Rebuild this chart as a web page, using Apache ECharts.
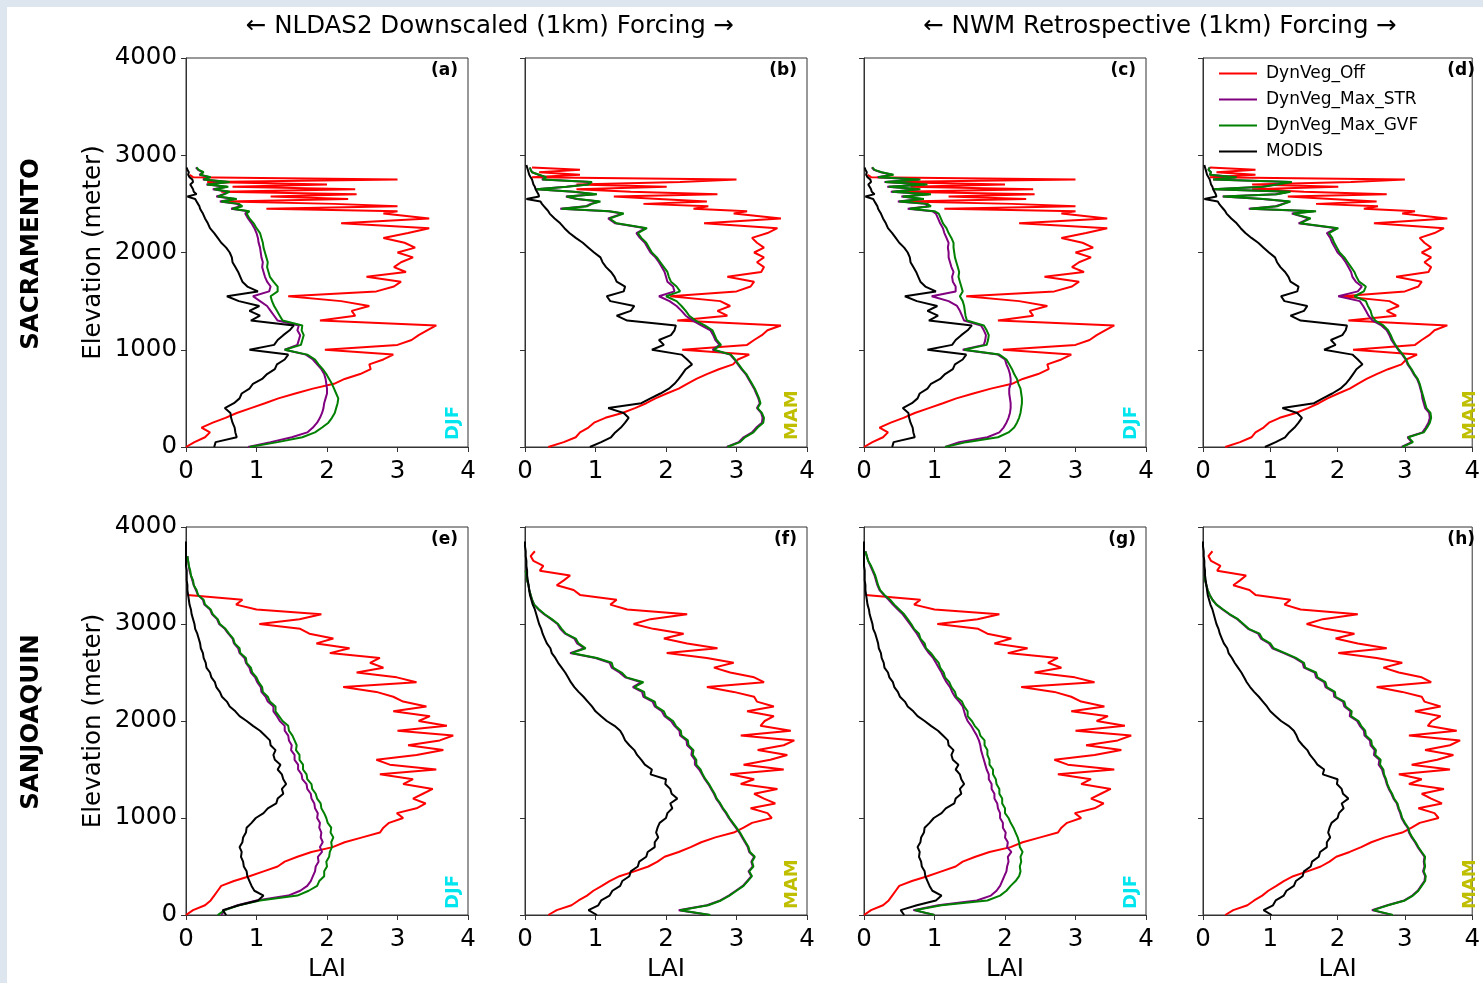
<!DOCTYPE html>
<html>
<head>
<meta charset="utf-8">
<title>LAI vs elevation</title>
<script src="https://cdn.jsdelivr.net/npm/echarts@6/dist/echarts.min.js"></script>
<style>
  html, body { margin: 0; padding: 0; background: #fff; }
  #chart { width: 1483px; height: 983px; }
</style>
</head>
<body>
<div id="chart"></div>
<script>
// elevation bins (m); finer near the ridge tops of the Sacramento basin
const elevSac = [0, 50, 100, 150, 200, 250, 300, 350, 400, 450, 500, 550, 600, 650, 700, 750, 800, 850, 900, 950,
  1000, 1050, 1100, 1150, 1200, 1250, 1300, 1350, 1400, 1450, 1500, 1550, 1600, 1650, 1700, 1750, 1800, 1850, 1900, 1950,
  2000, 2050, 2100, 2150, 2200, 2250, 2300, 2350,
  2400, 2425, 2450, 2475, 2500, 2525, 2550, 2575, 2600, 2625, 2650, 2675, 2700, 2725, 2750, 2775, 2800, 2825, 2850, 2875, 2900]
const elevSj = [0, 50, 100, 150, 200, 250, 300, 350, 400, 450, 500, 550, 600, 650, 700, 750, 800, 850, 900, 950,
  1000, 1050, 1100, 1150, 1200, 1250, 1300, 1350, 1400, 1450, 1500, 1550, 1600, 1650, 1700, 1750, 1800, 1850, 1900, 1950,
  2000, 2050, 2100, 2150, 2200, 2250, 2300, 2350, 2400, 2450, 2500, 2550, 2600, 2650, 2700, 2750, 2800, 2850, 2900, 2950,
  3000, 3050, 3100, 3150, 3200, 3250, 3300, 3350, 3400, 3450, 3500, 3550, 3600, 3650, 3700, 3750, 3800, 3850, 3900]

// ---- SACRAMENTO, DJF ----
const sacDjfOff = [0.0, 0.12, 0.27, 0.34, 0.22, 0.38, 0.56, 0.72, 0.92, 1.12,
  1.31, 1.55, 1.8, 2.1, 2.25, 2.47, 2.62, 2.6, 2.8, 2.94,
  1.97, 3.0, 3.2, 3.3, 3.42, 3.55, 1.9, 2.4, 2.35, 2.6,
  2.2, 1.45, 2.7, 2.95, 3.05, 2.56, 3.12, 2.95, 3.05, 3.22,
  3.0, 3.25, 3.1, 2.8, 3.15, 3.45, 2.2, 3.45,
  2.8, 3.0, 1.14, 3.0, 2.1, 0.6, 2.3, 1.2, 2.42, 0.5, 2.4, 0.66, 2.0, 0.3, 3.0, 0.1, 0.05, null, null, null, null]
const sacDjfModis = [0.4, 0.42, 0.72, 0.7, 0.69, 0.66, 0.64, 0.63, 0.55, 0.68,
  0.76, 0.79, 0.9, 0.95, 1.08, 1.15, 1.26, 1.29, 1.4, 1.45,
  0.9, 1.25, 1.3, 1.38, 1.47, 1.53, 0.92, 1.05, 0.9, 1.04,
  0.75, 0.58, 1.02, 0.87, 0.8, 0.77, 0.74, 0.7, 0.66, 0.65,
  0.62, 0.57, 0.5, 0.45, 0.4, 0.34, 0.31, 0.27,
  0.24, 0.22, 0.2, 0.19, 0.17, 0.15, 0.13, 0.02, 0.15, 0.11, 0.1, 0.08, 0.06, 0.1, 0.09, 0.05, 0.03, 0.04, 0.02, 0.01, null]
const sacDjfGvfN = [0.9, 1.3, 1.65, 1.83, 1.93, 2.02, 2.07, 2.11, 2.13, 2.15,
  2.16, 2.13, 2.1, 2.07, 2.03, 1.99, 1.94, 1.88, 1.83, 1.72,
  1.4, 1.63, 1.65, 1.67, 1.64, 1.65, 1.37, 1.33, 1.29, 1.25,
  1.22, 1.2, 1.3, 1.3, 1.24, 1.19, 1.17, 1.15, 1.16, 1.14,
  1.12, 1.1, 1.09, 1.07, 1.05, 1.0, 0.96, 0.9,
  0.86, 0.9, 0.66, 0.8, 0.75, 0.5, 0.72, 0.45, 0.55, 0.62, 0.4, 0.6, 0.3, 0.62, 0.25, 0.35, 0.2, 0.25, 0.18, 0.15, null]
const sacDjfStrN = [0.88, 1.2, 1.5, 1.72, 1.8, 1.86, 1.9, 1.93, 1.95, 1.96,
  1.98, 2.0, 2.0, 1.99, 1.98, 1.96, 1.92, 1.86, 1.8, 1.7,
  1.4, 1.58, 1.6, 1.62, 1.58, 1.6, 1.3, 1.25, 1.2, 1.15,
  1.05, 0.95, 1.18, 1.2, 1.15, 1.12, 1.1, 1.08, 1.09, 1.07,
  1.06, 1.05, 1.03, 1.02, 1.0, 0.97, 0.93, 0.88,
  0.84, 0.88, 0.64, 0.78, 0.72, 0.48, 0.7, 0.43, 0.53, 0.6, 0.38, 0.58, 0.29, 0.6, 0.24, 0.34, 0.19, 0.24, 0.17, 0.14, null]
const sacDjfGvfW = [1.15, 1.45, 1.9, 2.05, 2.13, 2.17, 2.2, 2.22, 2.23, 2.24,
  2.24, 2.23, 2.22, 2.19, 2.17, 2.13, 2.1, 2.06, 2.02, 1.92,
  1.42, 1.74, 1.76, 1.77, 1.74, 1.7, 1.46, 1.44, 1.43, 1.42,
  1.4, 1.36, 1.4, 1.38, 1.36, 1.34, 1.35, 1.33, 1.31, 1.29,
  1.28, 1.27, 1.27, 1.24, 1.2, 1.17, 1.12, 1.09,
  1.06, 1.0, 0.65, 0.95, 0.9, 0.5, 0.85, 0.55, 0.95, 0.4, 0.8, 0.35, 0.9, 0.3, 0.8, 0.2, 0.42, 0.25, 0.15, 0.12, null]
const sacDjfStrW = [1.15, 1.35, 1.75, 1.92, 1.98, 2.02, 2.05, 2.07, 2.08, 2.08,
  2.07, 2.06, 2.06, 2.08, 2.08, 2.07, 2.05, 2.02, 2.0, 1.9,
  1.4, 1.7, 1.72, 1.73, 1.7, 1.66, 1.42, 1.39, 1.36, 1.32,
  1.2, 0.96, 1.3, 1.3, 1.26, 1.25, 1.27, 1.24, 1.22, 1.2,
  1.2, 1.19, 1.2, 1.17, 1.14, 1.12, 1.08, 1.05,
  1.02, 0.97, 0.62, 0.92, 0.87, 0.48, 0.82, 0.53, 0.92, 0.38, 0.78, 0.33, 0.87, 0.29, 0.78, 0.19, 0.4, 0.24, 0.14, 0.11, null]

// ---- SACRAMENTO, MAM ----
const sacMamOff = [0.33, 0.55, 0.72, 0.78, 0.9, 0.98, 1.14, 1.38, 1.56, 1.72,
  1.85, 2.01, 2.18, 2.3, 2.43, 2.58, 2.75, 2.95, 3.02, 3.18,
  2.23, 3.15, 3.25, 3.36, 3.44, 3.63, 2.16, 2.87, 2.73, 2.91,
  2.77, 2.06, 3.0, 3.2, 3.25, 2.87, 3.35, 3.39, 3.29, 3.39,
  3.25, 3.39, 3.29, 3.22, 3.44, 3.58, 2.54, 3.63,
  2.96, 3.15, 2.39, 2.6, 1.68, 2.58, 1.9, 1.26, 2.73, 1.5, 0.73, 2.01, 0.73, 2.2, 3.0, 0.1, 0.78, 0.2, 0.78, 0.1, null]
const sacMamModis = [0.92, 1.08, 1.22, 1.28, 1.36, 1.42, 1.47, 1.4, 1.18, 1.65,
  1.78, 1.92, 2.04, 2.12, 2.18, 2.23, 2.28, 2.37, 2.3, 2.22,
  1.8, 1.97, 1.9, 2.07, 2.12, 2.14, 1.45, 1.3, 1.5, 1.55,
  1.21, 1.16, 1.4, 1.42, 1.3, 1.27, 1.22, 1.15, 1.1, 1.07,
  0.98, 0.9, 0.82, 0.72, 0.63, 0.56, 0.5, 0.42,
  0.35, 0.33, 0.3, 0.27, 0.24, 0.22, 0.02, 0.2, 0.19, 0.17, 0.15, 0.14, 0.12, 0.11, 0.1, 0.08, 0.06, 0.05, 0.04, 0.03, 0.02]
const sacMamGvfN = [2.87, 3.05, 3.12, 3.24, 3.3, 3.38, 3.39, 3.36, 3.3, 3.34,
  3.32, 3.29, 3.26, 3.22, 3.18, 3.14, 3.08, 3.03, 2.98, 2.92,
  2.68, 2.78, 2.72, 2.69, 2.66, 2.55, 2.42, 2.33, 2.28, 2.22,
  2.15, 2.0, 2.2, 2.15, 2.07, 2.04, 2.02, 1.97, 1.92, 1.87,
  1.8, 1.76, 1.72, 1.65, 1.6, 1.73, 1.3, 1.2,
  1.4, 1.2, 0.52, 0.88, 0.95, 1.07, 0.75, 0.59, 1.02, 0.7, 0.16, 0.6, 0.9, 0.95, 0.25, 0.3, 0.2, 0.1, 0.08, 0.07, null]
const sacMamStrN = [2.86, 3.03, 3.1, 3.22, 3.28, 3.36, 3.37, 3.35, 3.29, 3.33,
  3.31, 3.28, 3.25, 3.21, 3.17, 3.13, 3.07, 3.02, 2.97, 2.91,
  2.66, 2.76, 2.7, 2.67, 2.63, 2.5, 2.38, 2.28, 2.22, 2.15,
  2.05, 1.9, 2.12, 2.1, 2.02, 2.0, 1.98, 1.94, 1.9, 1.85,
  1.78, 1.74, 1.7, 1.63, 1.58, 1.71, 1.28, 1.18,
  1.38, 1.18, 0.5, 0.86, 0.93, 1.05, 0.73, 0.58, 1.0, 0.68, 0.16, 0.58, 0.88, 0.93, 0.24, 0.29, 0.19, 0.1, 0.08, 0.07, null]
const sacMamGvfW = [2.96, 3.12, 3.05, 3.28, 3.33, 3.37, 3.39, 3.38, 3.32, 3.3,
  3.28, 3.26, 3.24, 3.22, 3.19, 3.14, 3.1, 3.05, 3.02, 2.97,
  2.91, 2.86, 2.82, 2.79, 2.75, 2.68, 2.56, 2.51, 2.49, 2.45,
  2.42, 2.25, 2.39, 2.42, 2.32, 2.28, 2.25, 2.2, 2.15, 2.1,
  2.03, 1.99, 1.95, 1.92, 1.87, 2.01, 1.44, 1.6,
  1.34, 1.68, 0.7, 1.1, 1.2, 1.3, 0.9, 0.3, 1.1, 1.3, 0.15, 0.9, 1.1, 1.32, 0.15, 0.5, 0.1, 0.12, 0.08, 0.1, null]
const sacMamStrW = [2.95, 3.1, 3.04, 3.26, 3.31, 3.35, 3.37, 3.36, 3.3, 3.28,
  3.26, 3.25, 3.23, 3.21, 3.18, 3.13, 3.09, 3.04, 3.01, 2.96,
  2.9, 2.85, 2.8, 2.77, 2.73, 2.65, 2.52, 2.46, 2.42, 2.38,
  2.33, 2.01, 2.3, 2.36, 2.27, 2.22, 2.2, 2.16, 2.12, 2.07,
  2.0, 1.96, 1.92, 1.89, 1.84, 1.98, 1.42, 1.58,
  1.32, 1.65, 0.68, 1.08, 1.18, 1.28, 0.88, 0.29, 1.08, 1.28, 0.15, 0.88, 1.08, 1.3, 0.15, 0.49, 0.1, 0.12, 0.08, 0.1, null]

// ---- SANJOAQUIN, DJF ----
const sjDjfOff = [0.0, 0.1, 0.27, 0.35, 0.4, 0.45, 0.5, 0.68, 0.9, 1.1,
  1.3, 1.4, 1.58, 1.78, 2.08, 2.25, 2.5, 2.75, 2.8, 2.88,
  3.08, 2.99, 3.27, 3.4, 3.22, 3.36, 3.5, 3.08, 3.22, 2.75,
  3.55, 2.89, 2.7, 3.27, 3.65, 3.15, 3.6, 3.79, 3.0, 3.7,
  3.3, 3.46, 2.94, 3.41, 3.08, 2.94, 2.7, 2.23, 3.27, 2.99,
  2.42, 2.8, 2.61, 2.75, 2.04, 2.32, 1.85, 2.09, 1.75, 1.62,
  1.04, 1.61, 1.92, 1.0, 0.71, 0.8, 0.02, null, null, null,
  null, null, null, null, null, null, null, null, null]
const sjDjfModis = [0.57, 0.52, 0.75, 1.02, 1.1, 0.97, 0.93, 0.9, 0.87, 0.86,
  0.82, 0.81, 0.78, 0.79, 0.76, 0.8, 0.81, 0.85, 0.86, 0.93,
  0.99, 1.1, 1.16, 1.28, 1.3, 1.38, 1.36, 1.42, 1.38, 1.36,
  1.3, 1.34, 1.26, 1.24, 1.27, 1.2, 1.19, 1.12, 1.05, 0.95,
  0.86, 0.76, 0.7, 0.62, 0.58, 0.51, 0.48, 0.43, 0.41, 0.36,
  0.34, 0.29, 0.28, 0.25, 0.24, 0.21, 0.2, 0.18, 0.16, 0.13,
  0.12, 0.1, 0.08, 0.07, 0.05, 0.04, 0.03, 0.02, 0.02, 0.01,
  0.01, 0.01, 0.0, 0.0, 0.0, 0.0, 0.0, 0.0, null]
const sjDjfGvfN = [0.45, 0.55, 0.75, 1.05, 1.58, 1.74, 1.86, 1.89, 1.96, 1.96,
  2.0, 1.99, 2.03, 2.04, 2.07, 2.06, 2.09, 2.05, 2.06, 2.01,
  1.99, 1.96, 1.92, 1.91, 1.86, 1.84, 1.79, 1.78, 1.72, 1.71,
  1.66, 1.66, 1.61, 1.61, 1.56, 1.57, 1.54, 1.51, 1.46, 1.45,
  1.37, 1.32, 1.27, 1.27, 1.19, 1.16, 1.09, 1.08, 1.03, 1.0,
  0.94, 0.92, 0.86, 0.85, 0.77, 0.76, 0.69, 0.67, 0.61, 0.56,
  0.48, 0.45, 0.38, 0.35, 0.27, 0.25, 0.17, 0.15, 0.11, 0.1,
  0.07, 0.06, 0.04, 0.03, 0.02, null, null, null, null]
const sjDjfStrN = [0.5, 0.55, 0.73, 1.0, 1.45, 1.62, 1.72, 1.77, 1.8, 1.83,
  1.84, 1.88, 1.87, 1.93, 1.9, 1.94, 1.91, 1.92, 1.89, 1.9,
  1.86, 1.87, 1.83, 1.82, 1.78, 1.77, 1.72, 1.71, 1.65, 1.64,
  1.59, 1.59, 1.54, 1.54, 1.49, 1.5, 1.46, 1.45, 1.4, 1.4,
  1.33, 1.29, 1.24, 1.24, 1.16, 1.13, 1.07, 1.06, 1.01, 0.98,
  0.92, 0.9, 0.85, 0.83, 0.76, 0.74, 0.68, 0.66, 0.6, 0.55,
  0.47, 0.44, 0.37, 0.34, 0.26, 0.24, 0.17, 0.14, 0.11, 0.09,
  0.07, 0.05, 0.04, 0.03, 0.02, null, null, null, null]
const sjDjfGvfW = [1.0, 0.72, 1.1, 1.75, 1.93, 2.02, 2.08, 2.15, 2.2, 2.22,
  2.21, 2.23, 2.22, 2.25, 2.21, 2.2, 2.18, 2.15, 2.12, 2.08,
  2.05, 2.0, 2.0, 1.96, 1.96, 1.92, 1.92, 1.88, 1.87, 1.83,
  1.83, 1.78, 1.78, 1.75, 1.75, 1.71, 1.71, 1.65, 1.63, 1.57,
  1.53, 1.47, 1.47, 1.42, 1.39, 1.31, 1.29, 1.24, 1.21, 1.15,
  1.13, 1.08, 1.06, 1.0, 0.95, 0.88, 0.86, 0.8, 0.78, 0.71,
  0.67, 0.62, 0.57, 0.5, 0.43, 0.37, 0.29, 0.23, 0.2, 0.18,
  0.16, 0.13, 0.1, 0.06, 0.04, 0.02, null, null, null]
const sjDjfStrW = [1.0, 0.7, 1.05, 1.6, 1.8, 1.88, 1.93, 1.96, 1.99, 2.02,
  2.03, 2.05, 2.04, 2.09, 2.03, 2.04, 2.0, 2.01, 1.97, 1.97,
  1.93, 1.93, 1.9, 1.89, 1.85, 1.85, 1.81, 1.81, 1.77, 1.77,
  1.74, 1.72, 1.7, 1.68, 1.66, 1.65, 1.63, 1.6, 1.56, 1.52,
  1.47, 1.44, 1.42, 1.4, 1.35, 1.29, 1.25, 1.22, 1.17, 1.13,
  1.1, 1.06, 1.02, 0.98, 0.92, 0.87, 0.83, 0.79, 0.75, 0.7,
  0.65, 0.6, 0.55, 0.48, 0.41, 0.35, 0.28, 0.22, 0.19, 0.17,
  0.15, 0.12, 0.09, 0.06, 0.04, 0.02, null, null, null]

// ---- SANJOAQUIN, MAM ----
const sjMamOff = [0.33, 0.45, 0.66, 0.76, 0.88, 0.97, 1.09, 1.2, 1.34, 1.55,
  1.75, 1.88, 1.98, 2.18, 2.35, 2.5, 2.7, 2.96, 3.1, 3.22,
  3.5, 3.44, 3.2, 3.55, 3.39, 3.25, 3.58, 3.06, 3.25, 2.91,
  3.67, 3.1, 3.48, 3.72, 3.3, 3.67, 3.82, 3.06, 3.77, 3.34,
  3.4, 3.53, 3.15, 3.53, 3.29, 3.25, 2.96, 2.58, 3.39, 3.25,
  2.91, 2.68, 2.96, 2.58, 2.01, 2.73, 2.3, 1.97, 2.25, 1.82,
  1.54, 1.78, 2.3, 1.45, 1.21, 1.3, 0.78, 0.69, 0.45, 0.55,
  0.64, 0.21, 0.26, 0.12, 0.08, 0.14, null, null, null]
const sjMamModis = [1.02, 0.9, 1.04, 1.08, 1.2, 1.24, 1.35, 1.38, 1.48, 1.5,
  1.6, 1.62, 1.72, 1.74, 1.84, 1.84, 1.89, 1.86, 1.88, 1.91,
  2.0, 2.02, 2.09, 2.06, 2.16, 2.08, 2.06, 1.99, 2.0, 1.78,
  1.8, 1.7, 1.65, 1.59, 1.55, 1.48, 1.42, 1.39, 1.35, 1.27,
  1.16, 1.08, 1.0, 0.95, 0.89, 0.83, 0.76, 0.7, 0.65, 0.61,
  0.57, 0.52, 0.47, 0.43, 0.38, 0.36, 0.31, 0.28, 0.25, 0.23,
  0.2, 0.18, 0.16, 0.14, 0.11, 0.09, 0.07, 0.06, 0.05, 0.04,
  0.03, 0.03, 0.02, 0.02, 0.01, 0.01, 0.0, 0.0, null]
const sjMamGvfN = [2.63, 2.2, 2.6, 2.78, 2.9, 3.0, 3.1, 3.16, 3.22, 3.18,
  3.24, 3.22, 3.26, 3.19, 3.17, 3.13, 3.09, 3.05, 3.0, 2.95,
  2.9, 2.86, 2.81, 2.77, 2.72, 2.69, 2.65, 2.61, 2.56, 2.52,
  2.49, 2.43, 2.43, 2.38, 2.39, 2.32, 2.31, 2.22, 2.21, 2.14,
  2.1, 2.0, 1.97, 1.86, 1.84, 1.7, 1.69, 1.55, 1.68, 1.44,
  1.37, 1.25, 1.23, 1.02, 0.66, 0.86, 0.76, 0.72, 0.58, 0.52,
  0.47, 0.38, 0.28, 0.2, 0.13, 0.1, 0.08, 0.06, 0.05, 0.03,
  0.02, 0.01, null, null, null, null, null, null, null]
const sjMamStrN = [2.62, 2.18, 2.58, 2.77, 2.89, 2.99, 3.09, 3.15, 3.21, 3.17,
  3.23, 3.21, 3.25, 3.18, 3.16, 3.12, 3.08, 3.04, 2.99, 2.94,
  2.89, 2.85, 2.8, 2.76, 2.71, 2.68, 2.64, 2.6, 2.55, 2.51,
  2.47, 2.41, 2.41, 2.36, 2.37, 2.3, 2.29, 2.2, 2.19, 2.12,
  2.07, 1.98, 1.94, 1.84, 1.81, 1.68, 1.66, 1.53, 1.65, 1.42,
  1.34, 1.23, 1.2, 1.0, 0.64, 0.84, 0.74, 0.7, 0.57, 0.5,
  0.46, 0.37, 0.27, 0.19, 0.13, 0.1, 0.08, 0.06, 0.05, 0.03,
  0.02, 0.01, null, null, null, null, null, null, null]
const sjMamGvfW = [2.82, 2.53, 2.75, 3.0, 3.12, 3.2, 3.25, 3.3, 3.31, 3.28,
  3.3, 3.29, 3.3, 3.25, 3.2, 3.16, 3.11, 3.07, 3.05, 3.0,
  2.96, 2.94, 2.91, 2.89, 2.84, 2.81, 2.77, 2.74, 2.72, 2.69,
  2.68, 2.63, 2.64, 2.56, 2.57, 2.51, 2.5, 2.42, 2.41, 2.35,
  2.31, 2.2, 2.21, 2.12, 2.1, 1.97, 1.96, 1.84, 1.82, 1.7,
  1.68, 1.52, 1.5, 1.38, 1.22, 1.05, 1.0, 0.88, 0.84, 0.68,
  0.6, 0.52, 0.4, 0.3, 0.2, 0.14, 0.1, 0.07, 0.05, 0.03,
  0.02, null, null, null, null, null, null, null, null]
const sjMamStrW = [2.81, 2.51, 2.74, 2.99, 3.11, 3.19, 3.24, 3.29, 3.3, 3.27,
  3.29, 3.28, 3.29, 3.24, 3.19, 3.15, 3.1, 3.06, 3.04, 2.99,
  2.95, 2.93, 2.9, 2.88, 2.83, 2.8, 2.76, 2.73, 2.71, 2.68,
  2.66, 2.61, 2.62, 2.54, 2.55, 2.49, 2.48, 2.4, 2.39, 2.33,
  2.29, 2.18, 2.19, 2.1, 2.08, 1.95, 1.94, 1.82, 1.8, 1.68,
  1.66, 1.5, 1.48, 1.36, 1.2, 1.03, 0.98, 0.86, 0.82, 0.67,
  0.59, 0.51, 0.39, 0.29, 0.2, 0.14, 0.1, 0.07, 0.05, 0.03,
  0.02, null, null, null, null, null, null, null, null]

const laiTicks = [0, 1, 2, 3, 4]
const elevTicks = [0, 1000, 2000, 3000, 4000]

// panel layout (px)
const colLeft = [186, 525, 864, 1203]
const rowTop = [58, 527]
const W = 282
const H = 389
const FONT = 'DejaVu Sans'
const FS = 24.5

const panels = [
  { tag: '(a)', season: 'DJF', row: 0, col: 0, elev: elevSac, off: sacDjfOff, str: sacDjfStrN, gvf: sacDjfGvfN, modis: sacDjfModis },
  { tag: '(b)', season: 'MAM', row: 0, col: 1, elev: elevSac, off: sacMamOff, str: sacMamStrN, gvf: sacMamGvfN, modis: sacMamModis },
  { tag: '(c)', season: 'DJF', row: 0, col: 2, elev: elevSac, off: sacDjfOff, str: sacDjfStrW, gvf: sacDjfGvfW, modis: sacDjfModis },
  { tag: '(d)', season: 'MAM', row: 0, col: 3, elev: elevSac, off: sacMamOff, str: sacMamStrW, gvf: sacMamGvfW, modis: sacMamModis },
  { tag: '(e)', season: 'DJF', row: 1, col: 0, elev: elevSj, off: sjDjfOff, str: sjDjfStrN, gvf: sjDjfGvfN, modis: sjDjfModis },
  { tag: '(f)', season: 'MAM', row: 1, col: 1, elev: elevSj, off: sjMamOff, str: sjMamStrN, gvf: sjMamGvfN, modis: sjMamModis },
  { tag: '(g)', season: 'DJF', row: 1, col: 2, elev: elevSj, off: sjDjfOff, str: sjDjfStrW, gvf: sjDjfGvfW, modis: sjDjfModis },
  { tag: '(h)', season: 'MAM', row: 1, col: 3, elev: elevSj, off: sjMamOff, str: sjMamStrW, gvf: sjMamGvfW, modis: sjMamModis }
]

const seasonColor = { DJF: '#00e5ee', MAM: '#bfbf00' }

// LAI on x, elevation on y
function toPoints (lai, elev) {
  const out = []
  lai.forEach((v, i) => { if (v !== null) out.push([v, elev[i]]) })
  return out
}

const grids = []
const xAxes = []
const yAxes = []
const series = []
const graphics = [
  // light frame round the figure
  { type: 'rect', shape: { x: 0, y: 0, width: 1483, height: 7 }, style: { fill: '#dde5ef' }, silent: true },
  { type: 'rect', shape: { x: 0, y: 0, width: 7, height: 983 }, style: { fill: '#dde5ef' }, silent: true },
  { type: 'text', x: 490, y: 27, style: { text: '← NLDAS2 Downscaled (1km) Forcing →', fill: '#000', fontSize: FS, fontFamily: FONT, align: 'center', verticalAlign: 'middle' } },
  { type: 'text', x: 1160, y: 27, style: { text: '← NWM Retrospective (1km) Forcing →', fill: '#000', fontSize: FS, fontFamily: FONT, align: 'center', verticalAlign: 'middle' } },
  { type: 'text', x: 32, y: 254, rotation: Math.PI / 2, style: { text: 'SACRAMENTO', fill: '#000', fontSize: FS, fontWeight: 'bold', fontFamily: FONT, align: 'center', verticalAlign: 'middle' } },
  { type: 'text', x: 32, y: 722, rotation: Math.PI / 2, style: { text: 'SANJOAQUIN', fill: '#000', fontSize: FS, fontWeight: 'bold', fontFamily: FONT, align: 'center', verticalAlign: 'middle' } }
]

panels.forEach((p, k) => {
  const left = colLeft[p.col]
  const top = rowTop[p.row]
  grids.push({ left: left, top: top, width: W, height: H, show: true, borderColor: '#333', borderWidth: 1, backgroundColor: 'transparent' })
  xAxes.push({
    gridIndex: k, type: 'value', min: laiTicks[0], max: laiTicks[laiTicks.length - 1], interval: 1,
    axisLine: { show: true, onZero: false, lineStyle: { color: '#333', width: 1 } },
    axisTick: { show: true, inside: false, length: 5, lineStyle: { color: '#333' } },
    axisLabel: { fontSize: FS, color: '#000', fontFamily: FONT, margin: 12, showMinLabel: true, showMaxLabel: true },
    splitLine: { show: false },
    name: p.row === 1 ? 'LAI' : '',
    nameLocation: 'middle', nameGap: 42,
    nameTextStyle: { fontSize: FS, color: '#000', fontFamily: FONT }
  })
  yAxes.push({
    gridIndex: k, type: 'value', min: elevTicks[0], max: elevTicks[elevTicks.length - 1], interval: 1000,
    axisLine: { show: true, onZero: false, lineStyle: { color: '#333', width: 1 } },
    axisTick: { show: true, inside: false, length: 5, lineStyle: { color: '#333' } },
    axisLabel: { show: p.col === 0, fontSize: FS, color: '#000', fontFamily: FONT, margin: 9, showMinLabel: true, showMaxLabel: true, formatter: v => String(v) },
    splitLine: { show: false },
    name: p.col === 0 ? 'Elevation (meter)' : '',
    nameLocation: 'middle', nameGap: 80, nameRotate: 90,
    nameTextStyle: { fontSize: FS, color: '#000', fontFamily: FONT }
  })
  const lines = [
    ['DynVeg_Off', '#ff0000', p.off],
    ['DynVeg_Max_STR', '#800080', p.str],
    ['DynVeg_Max_GVF', '#008000', p.gvf],
    ['MODIS', '#000000', p.modis]
  ]
  lines.forEach(([name, color, lai]) => {
    series.push({
      name: name, type: 'line', xAxisIndex: k, yAxisIndex: k,
      data: toPoints(lai, p.elev),
      showSymbol: false, symbol: 'none',
      lineStyle: { color: color, width: 2 },
      itemStyle: { color: color },
      emphasis: { disabled: true }
    })
  })
  graphics.push({ type: 'text', x: left + W - 10, y: top + 13, style: { text: p.tag, fill: '#000', fontSize: 17, fontWeight: 'bold', fontFamily: FONT, align: 'right', verticalAlign: 'middle' } })
  graphics.push({ type: 'text', x: left + W - 15, y: top + H - 7, rotation: Math.PI / 2, style: { text: p.season, fill: seasonColor[p.season], fontSize: 18, fontWeight: 'bold', fontFamily: FONT, align: 'left', verticalAlign: 'middle' } })
})

const chart = echarts.init(document.getElementById('chart'))
chart.setOption({
  backgroundColor: '#ffffff',
  animation: false,
  textStyle: { fontFamily: FONT },
  grid: grids,
  xAxis: xAxes,
  yAxis: yAxes,
  legend: {
    data: ['DynVeg_Off', 'DynVeg_Max_STR', 'DynVeg_Max_GVF', 'MODIS'],
    orient: 'vertical', left: 1214, top: 60,
    icon: 'rect', itemWidth: 38, itemHeight: 2, itemGap: 9,
    textStyle: { fontSize: 17, color: '#000', fontFamily: FONT, padding: [0, 0, 0, 4] },
    selectedMode: false
  },
  graphic: graphics,
  series: series
})
</script>
</body>
</html>
